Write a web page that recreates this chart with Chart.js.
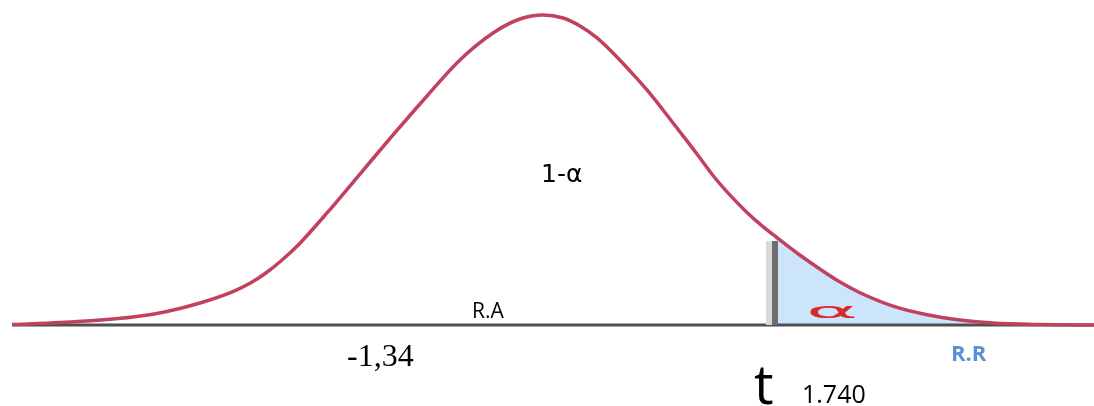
<!DOCTYPE html>
<html>
<head>
<meta charset="utf-8">
<script src="https://cdn.jsdelivr.net/npm/chart.js@4/dist/chart.umd.min.js"></script>
<style>
  html, body { margin: 0; padding: 0; background: #ffffff; }
  #wrap { width: 1094px; height: 406px; }
</style>
</head>
<body>
<div id="wrap"><canvas id="canvas" width="1094" height="406"></canvas></div>
<script>
// curve (t value, density)
const tVals = [-3.983, -3.623, -3.323, -3.076, -2.821, -2.573, -2.326, -2.198, -2.071, -1.951, -1.823,
    -1.620, -1.373, -1.125, -0.870, -0.623, -0.375, -0.173, 0, 0.150, 0.278, 0.405, 0.525, 0.653,
    0.780, 0.900, 1.028, 1.155, 1.275, 1.403, 1.530, 1.650, 1.755, 1.905, 2.055, 2.228, 2.378,
    2.626, 2.881, 3.128, 3.376, 3.728, 4.133]
const densVals = [0.0006, 0.0032, 0.0064, 0.0102, 0.0172, 0.0280, 0.0425, 0.0530, 0.0670, 0.0835, 0.1040,
    0.1424, 0.1919, 0.2415, 0.2911, 0.3368, 0.3711, 0.3889, 0.394, 0.3902, 0.3800, 0.3648, 0.3457, 0.3228,
    0.2987, 0.2733, 0.2453, 0.2173, 0.1900, 0.1650, 0.1430, 0.1250, 0.1110, 0.0915, 0.0737, 0.0545, 0.0410,
    0.0240, 0.0130, 0.0064, 0.0025, 0.0006, 0]

const tCrit = 1.74
const critDensity = 0.1128
const tStrip = 1.695   // light grey strip next to the critical line
const tMin = -3.983
const tMax = 4.133
const peak = 0.394

var curve = tVals.map((t, i) => ({ x: t, y: densVals[i] }))

var tail = [{ x: tCrit, y: critDensity }]
for (let i in tVals) {
    if (tVals[i] > tCrit) tail.push({ x: tVals[i], y: densVals[i] })
}

const labelsPlugin = {
    id: 'labels',
    afterDraw: (chart) => {
        const { ctx } = chart
        const ys = chart.scales.y
        const base = ys.getPixelForValue(0)

        ctx.save()
        ctx.textBaseline = 'alphabetic'
        ctx.textAlign = 'left'

        ctx.fillStyle = '#000000'
        ctx.font = '25px "DejaVu Sans", sans-serif'
        ctx.fillText('1-α', 541, 182)

        ctx.font = '21px "Open Sans", "DejaVu Sans", sans-serif'
        ctx.fillText('R.A', 472, base - 7)

        ctx.font = '32px "Liberation Serif", serif'
        ctx.fillText('-1,34', 347, 366)

        ctx.fillStyle = '#5b8fd4'
        ctx.font = 'bold 22px "Open Sans", "DejaVu Sans", sans-serif'
        ctx.fillText('R.R', 951, 361)

        ctx.fillStyle = '#000000'
        ctx.font = '55px "Open Sans", "DejaVu Sans", sans-serif'
        ctx.fillText('t', 754, 404)

        ctx.font = '25px "Open Sans", "DejaVu Sans", sans-serif'
        ctx.fillText('1.740', 802, 403)

        // squashed red alpha inside the rejection region
        ctx.fillStyle = '#d42a2a'
        ctx.font = '22px "DejaVu Sans", sans-serif'
        ctx.translate(806, base - 7)
        ctx.scale(3.6, 0.95)
        ctx.fillText('α', 0, 0)
        ctx.restore()
    }
}

var chart = new Chart(document.getElementById('canvas'), {
    type: 'line',
    data: {
        datasets: [
            {
                label: 'curve',
                data: curve,
                borderColor: '#c1415f',
                borderWidth: 3.5,
                pointRadius: 0,
                cubicInterpolationMode: 'monotone',
                fill: false,
                clip: false,
                order: 0
            },
            {
                label: 'critical',
                data: [{ x: tCrit, y: 0 }, { x: tCrit, y: critDensity - 0.006 }],
                borderColor: '#6e6e6e',
                borderWidth: 6,
                pointRadius: 0,
                fill: false,
                clip: false,
                order: 1
            },
            {
                label: 'strip',
                data: [{ x: tStrip, y: 0 }, { x: tStrip, y: critDensity - 0.006 }],
                borderColor: '#d9d9d9',
                borderWidth: 6,
                pointRadius: 0,
                fill: false,
                clip: false,
                order: 2
            },
            {
                label: 'baseline',
                data: [{ x: tMin, y: 0 }, { x: tMax, y: 0 }],
                borderColor: '#4f4f4f',
                borderWidth: 3,
                pointRadius: 0,
                fill: false,
                clip: false,
                order: 3
            },
            {
                label: 'tail',
                data: tail,
                borderWidth: 0,
                borderColor: 'rgba(0,0,0,0)',
                backgroundColor: '#cce5fb',
                pointRadius: 0,
                cubicInterpolationMode: 'monotone',
                fill: 'origin',
                clip: false,
                order: 5
            }
        ]
    },
    options: {
        responsive: false,
        animation: false,
        layout: { padding: { left: 12, right: 0, top: 15, bottom: 81 } },
        plugins: {
            legend: { display: false },
            tooltip: { enabled: false }
        },
        scales: {
            x: { type: 'linear', min: tMin, max: tMax, display: false },
            y: { min: 0, max: peak, display: false }
        }
    },
    plugins: [labelsPlugin]
})
</script>
</body>
</html>
